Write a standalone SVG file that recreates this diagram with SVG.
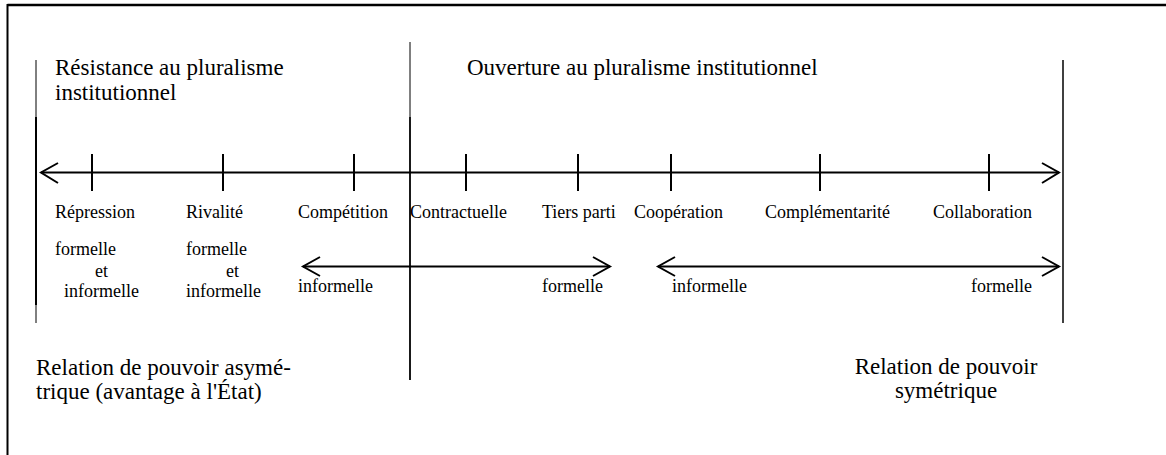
<svg xmlns="http://www.w3.org/2000/svg" width="1166" height="455" viewBox="0 0 1166 455">
  <style>
    text { font-family: "Liberation Serif", "Times New Roman", serif; fill: #000; }
    .big { font-size: 23px; }
    .lbl { font-size: 18px; }
    .ln { stroke: #000; fill: none; }
    .axis { stroke: #000; stroke-width: 2; fill: none; }
    .head { stroke: #000; stroke-width: 2; fill: none; }
  </style>
  <rect width="1166" height="455" fill="#fff"/>
  <g id="frame">
    <line class="ln" x1="7.5" y1="5" x2="1166" y2="5" stroke-width="2.5"/>
    <line class="ln" x1="7.5" y1="4" x2="7.5" y2="455" stroke-width="2"/>
  </g>
  <g id="dividers">
    <line class="ln" x1="36" y1="60" x2="36" y2="323" stroke-width="1"/>
    <line class="ln" x1="36" y1="117" x2="36" y2="305" stroke-width="2"/>
    <line class="ln" x1="410" y1="42" x2="410" y2="117" stroke-width="1"/>
    <line class="ln" x1="410" y1="117" x2="410" y2="380" stroke-width="1.8"/>
    <line class="ln" x1="1063" y1="60" x2="1063" y2="323" stroke-width="1.5"/>
  </g>
  <g id="connectors">
    <g id="main-axis">
      <line class="axis" x1="41" y1="172.5" x2="1059" y2="172.5"/>
      <polyline class="head" points="58,163 41,172.5 58,183"/>
      <polyline class="head" points="1042,163 1059,172.5 1042,183"/>
      <g class="ticks">
        <line class="axis" x1="92" y1="154" x2="92" y2="191"/>
        <line class="axis" x1="223" y1="154" x2="223" y2="191"/>
        <line class="axis" x1="354" y1="154" x2="354" y2="191"/>
        <line class="axis" x1="466" y1="154" x2="466" y2="191"/>
        <line class="axis" x1="578" y1="154" x2="578" y2="191"/>
        <line class="axis" x1="671" y1="154" x2="671" y2="191"/>
        <line class="axis" x1="820" y1="154" x2="820" y2="191"/>
        <line class="axis" x1="989" y1="154" x2="989" y2="191"/>
      </g>
    </g>
    <g id="arrow-left-range">
      <line class="axis" x1="303" y1="266.5" x2="610" y2="266.5"/>
      <polyline class="head" points="320,257 303,266.5 320,276"/>
      <polyline class="head" points="593,257 610,266.5 593,276"/>
    </g>
    <g id="arrow-right-range">
      <line class="axis" x1="658" y1="266.5" x2="1059" y2="266.5"/>
      <polyline class="head" points="675,257 658,266.5 675,276"/>
      <polyline class="head" points="1042,257 1059,266.5 1042,276"/>
    </g>
  </g>
  <g id="header-resistance">
    <text class="big" x="55" y="75">Résistance au pluralisme</text>
    <text class="big" x="55" y="100">institutionnel</text>
  </g>
  <g id="header-ouverture">
    <text class="big" x="467" y="75">Ouverture au pluralisme institutionnel</text>
  </g>
  <g id="node-repression">
    <text class="lbl" x="55" y="218">Répression</text>
    <text class="lbl" x="55" y="255">formelle</text>
    <text class="lbl" x="95" y="277">et</text>
    <text class="lbl" x="64" y="297">informelle</text>
  </g>
  <g id="node-rivalite">
    <text class="lbl" x="186" y="218">Rivalité</text>
    <text class="lbl" x="186" y="255">formelle</text>
    <text class="lbl" x="226" y="277">et</text>
    <text class="lbl" x="186" y="297">informelle</text>
  </g>
  <g id="node-competition">
    <text class="lbl" x="298" y="218">Compétition</text>
    <text class="lbl" x="298" y="292">informelle</text>
  </g>
  <g id="node-contractuelle">
    <text class="lbl" x="410" y="218">Contractuelle</text>
  </g>
  <g id="node-tiers-parti">
    <text class="lbl" x="542" y="218">Tiers parti</text>
    <text class="lbl" x="542" y="292">formelle</text>
  </g>
  <g id="node-cooperation">
    <text class="lbl" x="634" y="218">Coopération</text>
    <text class="lbl" x="672" y="292">informelle</text>
  </g>
  <g id="node-complementarite">
    <text class="lbl" x="765" y="218">Complémentarité</text>
  </g>
  <g id="node-collaboration">
    <text class="lbl" x="933" y="218">Collaboration</text>
    <text class="lbl" x="971" y="292">formelle</text>
  </g>
  <g id="footer-asymetrique">
    <text class="big" x="36" y="375">Relation de pouvoir asymé-</text>
    <text class="big" x="36" y="399">trique (avantage à l'État)</text>
  </g>
  <g id="footer-symetrique">
    <text class="big" x="946" y="374" text-anchor="middle">Relation de pouvoir</text>
    <text class="big" x="946" y="398" text-anchor="middle">symétrique</text>
  </g>
</svg>
